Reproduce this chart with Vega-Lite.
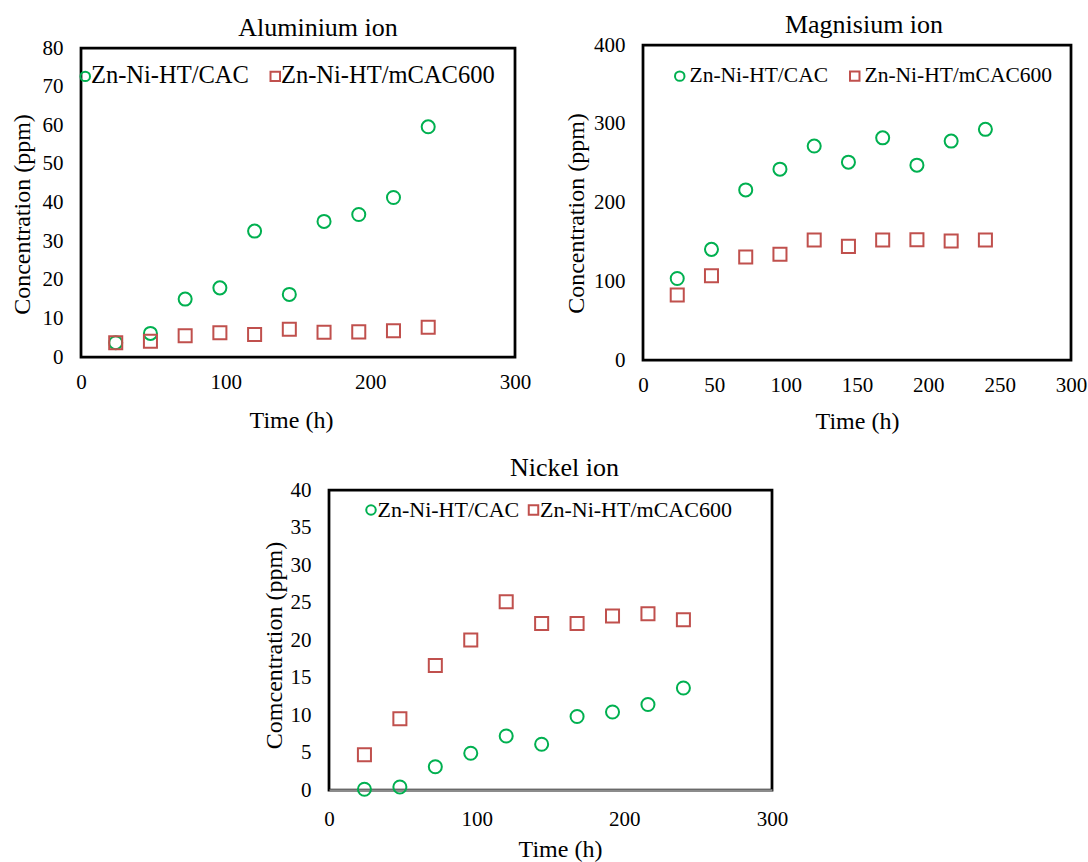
{
  "$schema": "https://vega.github.io/schema/vega-lite/v6.json",
  "background": "white",
  "padding": {"left": 8, "top": 10, "right": 5, "bottom": 5},
  "datasets": {
    "ions": [
      {"ion": "Aluminium", "material": "Zn-Ni-HT/CAC", "time": 24, "conc": 3.7},
      {"ion": "Aluminium", "material": "Zn-Ni-HT/CAC", "time": 48, "conc": 6.1},
      {"ion": "Aluminium", "material": "Zn-Ni-HT/CAC", "time": 72, "conc": 15.0},
      {"ion": "Aluminium", "material": "Zn-Ni-HT/CAC", "time": 96, "conc": 17.9},
      {"ion": "Aluminium", "material": "Zn-Ni-HT/CAC", "time": 120, "conc": 32.6},
      {"ion": "Aluminium", "material": "Zn-Ni-HT/CAC", "time": 144, "conc": 16.2},
      {"ion": "Aluminium", "material": "Zn-Ni-HT/CAC", "time": 168, "conc": 35.1},
      {"ion": "Aluminium", "material": "Zn-Ni-HT/CAC", "time": 192, "conc": 36.9},
      {"ion": "Aluminium", "material": "Zn-Ni-HT/CAC", "time": 216, "conc": 41.3},
      {"ion": "Aluminium", "material": "Zn-Ni-HT/CAC", "time": 240, "conc": 59.6},
      {"ion": "Aluminium", "material": "Zn-Ni-HT/mCAC600", "time": 24, "conc": 3.7},
      {"ion": "Aluminium", "material": "Zn-Ni-HT/mCAC600", "time": 48, "conc": 4.1},
      {"ion": "Aluminium", "material": "Zn-Ni-HT/mCAC600", "time": 72, "conc": 5.5},
      {"ion": "Aluminium", "material": "Zn-Ni-HT/mCAC600", "time": 96, "conc": 6.3},
      {"ion": "Aluminium", "material": "Zn-Ni-HT/mCAC600", "time": 120, "conc": 5.8},
      {"ion": "Aluminium", "material": "Zn-Ni-HT/mCAC600", "time": 144, "conc": 7.2},
      {"ion": "Aluminium", "material": "Zn-Ni-HT/mCAC600", "time": 168, "conc": 6.4},
      {"ion": "Aluminium", "material": "Zn-Ni-HT/mCAC600", "time": 192, "conc": 6.5},
      {"ion": "Aluminium", "material": "Zn-Ni-HT/mCAC600", "time": 216, "conc": 6.8},
      {"ion": "Aluminium", "material": "Zn-Ni-HT/mCAC600", "time": 240, "conc": 7.7},
      {"ion": "Magnesium", "material": "Zn-Ni-HT/CAC", "time": 24, "conc": 103.5},
      {"ion": "Magnesium", "material": "Zn-Ni-HT/CAC", "time": 48, "conc": 140.5},
      {"ion": "Magnesium", "material": "Zn-Ni-HT/CAC", "time": 72, "conc": 216},
      {"ion": "Magnesium", "material": "Zn-Ni-HT/CAC", "time": 96, "conc": 242.3},
      {"ion": "Magnesium", "material": "Zn-Ni-HT/CAC", "time": 120, "conc": 271.7},
      {"ion": "Magnesium", "material": "Zn-Ni-HT/CAC", "time": 144, "conc": 251.2},
      {"ion": "Magnesium", "material": "Zn-Ni-HT/CAC", "time": 168, "conc": 282.1},
      {"ion": "Magnesium", "material": "Zn-Ni-HT/CAC", "time": 192, "conc": 247.4},
      {"ion": "Magnesium", "material": "Zn-Ni-HT/CAC", "time": 216, "conc": 278},
      {"ion": "Magnesium", "material": "Zn-Ni-HT/CAC", "time": 240, "conc": 292.9},
      {"ion": "Magnesium", "material": "Zn-Ni-HT/mCAC600", "time": 24, "conc": 82.5},
      {"ion": "Magnesium", "material": "Zn-Ni-HT/mCAC600", "time": 48, "conc": 107.1},
      {"ion": "Magnesium", "material": "Zn-Ni-HT/mCAC600", "time": 72, "conc": 130.8},
      {"ion": "Magnesium", "material": "Zn-Ni-HT/mCAC600", "time": 96, "conc": 134.2},
      {"ion": "Magnesium", "material": "Zn-Ni-HT/mCAC600", "time": 120, "conc": 152.4},
      {"ion": "Magnesium", "material": "Zn-Ni-HT/mCAC600", "time": 144, "conc": 144.3},
      {"ion": "Magnesium", "material": "Zn-Ni-HT/mCAC600", "time": 168, "conc": 152.4},
      {"ion": "Magnesium", "material": "Zn-Ni-HT/mCAC600", "time": 192, "conc": 152.8},
      {"ion": "Magnesium", "material": "Zn-Ni-HT/mCAC600", "time": 216, "conc": 151.1},
      {"ion": "Magnesium", "material": "Zn-Ni-HT/mCAC600", "time": 240, "conc": 152.4},
      {"ion": "Nickel", "material": "Zn-Ni-HT/CAC", "time": 24, "conc": 0.1},
      {"ion": "Nickel", "material": "Zn-Ni-HT/CAC", "time": 48, "conc": 0.4},
      {"ion": "Nickel", "material": "Zn-Ni-HT/CAC", "time": 72, "conc": 3.1},
      {"ion": "Nickel", "material": "Zn-Ni-HT/CAC", "time": 96, "conc": 4.9},
      {"ion": "Nickel", "material": "Zn-Ni-HT/CAC", "time": 120, "conc": 7.2},
      {"ion": "Nickel", "material": "Zn-Ni-HT/CAC", "time": 144, "conc": 6.1},
      {"ion": "Nickel", "material": "Zn-Ni-HT/CAC", "time": 168, "conc": 9.8},
      {"ion": "Nickel", "material": "Zn-Ni-HT/CAC", "time": 192, "conc": 10.4},
      {"ion": "Nickel", "material": "Zn-Ni-HT/CAC", "time": 216, "conc": 11.4},
      {"ion": "Nickel", "material": "Zn-Ni-HT/CAC", "time": 240, "conc": 13.6},
      {"ion": "Nickel", "material": "Zn-Ni-HT/mCAC600", "time": 24, "conc": 4.7},
      {"ion": "Nickel", "material": "Zn-Ni-HT/mCAC600", "time": 48, "conc": 9.5},
      {"ion": "Nickel", "material": "Zn-Ni-HT/mCAC600", "time": 72, "conc": 16.6},
      {"ion": "Nickel", "material": "Zn-Ni-HT/mCAC600", "time": 96, "conc": 20.0},
      {"ion": "Nickel", "material": "Zn-Ni-HT/mCAC600", "time": 120, "conc": 25.1},
      {"ion": "Nickel", "material": "Zn-Ni-HT/mCAC600", "time": 144, "conc": 22.2},
      {"ion": "Nickel", "material": "Zn-Ni-HT/mCAC600", "time": 168, "conc": 22.2},
      {"ion": "Nickel", "material": "Zn-Ni-HT/mCAC600", "time": 192, "conc": 23.2},
      {"ion": "Nickel", "material": "Zn-Ni-HT/mCAC600", "time": 216, "conc": 23.5},
      {"ion": "Nickel", "material": "Zn-Ni-HT/mCAC600", "time": 240, "conc": 22.7}
    ]
  },
  "config": {
    "font": "Liberation Serif",
    "view": {"stroke": "black", "strokeWidth": 2.75},
    "style": {
      "guide-title": {"font": "Liberation Serif", "fontWeight": "normal"},
      "guide-label": {"font": "Liberation Serif", "fontWeight": "normal"},
      "group-title": {"font": "Liberation Serif", "fontWeight": "normal"}
    },
    "title": {"font": "Liberation Serif", "fontSize": 26, "fontWeight": "normal", "color": "black", "baseline": "alphabetic", "anchor": "middle", "frame": "group"},
    "axis": {
      "grid": false, "ticks": false, "tickSize": 0, "domain": false, "labelFlush": false, "labelOverlap": false,
      "labelFont": "Liberation Serif", "labelFontSize": 21, "labelColor": "black",
      "titleFont": "Liberation Serif", "titleFontSize": 24, "titleFontWeight": "normal", "titleColor": "black"
    },
    "axisX": {"labelPadding": 14, "titleBaseline": "alphabetic", "titleFontWeight": "normal"},
    "axisY": {"labelPadding": 18, "titleBaseline": "alphabetic", "titleAngle": 270, "titleFontWeight": "normal"},
    "legend": {
      "orient": "none", "direction": "horizontal", "padding": 0, "labelLimit": 0,
      "labelFont": "Liberation Serif", "labelColor": "black",
      "symbolSize": 90, "symbolStrokeWidth": 2
    },
    "point": {"filled": false, "strokeWidth": 2, "opacity": 1}
  },
  "resolve": {"scale": {"color": "independent", "shape": "independent"}, "legend": {"color": "independent", "shape": "independent"}},
  "bounds": "full",
  "spacing": 18,
  "vconcat": [
    {
      "bounds": "flush",
      "center": true,
      "spacing": 128,
      "resolve": {"scale": {"color": "independent", "shape": "independent"}, "legend": {"color": "independent", "shape": "independent"}},
      "hconcat": [
        {
          "width": 434,
          "height": 309,
          "title": {"text": "Aluminium ion", "dx": 20, "offset": -4},
          "data": {"name": "ions"},
          "transform": [{"filter": "datum.ion === 'Aluminium'"}],
          "mark": {"type": "point", "size": 170},
          "encoding": {
            "x": {"field": "time", "type": "quantitative", "scale": {"domain": [0, 300], "nice": false},
                  "axis": {"values": [0, 100, 200, 300], "title": "Time (h)", "titleY": 70, "titleX": 210}},
            "y": {"field": "conc", "type": "quantitative", "scale": {"domain": [0, 80], "nice": false},
                  "axis": {"values": [0, 10, 20, 30, 40, 50, 60, 70, 80], "title": "Concentration (ppm)", "titleX": -52, "titleY": 166}},
            "color": {"field": "material", "type": "nominal",
                      "scale": {"domain": ["Zn-Ni-HT/CAC", "Zn-Ni-HT/mCAC600"], "range": ["#00B050", "#C0504D"]},
                      "legend": {"title": null, "legendX": -8, "legendY": 16, "labelFontSize": 24.5, "labelOffset": -6.5, "columnPadding": 14}},
            "shape": {"field": "material", "type": "nominal",
                      "scale": {"domain": ["Zn-Ni-HT/CAC", "Zn-Ni-HT/mCAC600"], "range": ["circle", "square"]},
                      "legend": {"title": null, "legendX": -8, "legendY": 16, "labelFontSize": 24.5, "labelOffset": -6.5, "columnPadding": 14}}
          }
        },
        {
          "width": 428,
          "height": 315,
          "title": {"text": "Magnisium ion", "dx": 7, "offset": -4},
          "data": {"name": "ions"},
          "transform": [{"filter": "datum.ion === 'Magnesium'"}],
          "mark": {"type": "point", "size": 170},
          "encoding": {
            "x": {"field": "time", "type": "quantitative", "scale": {"domain": [0, 300], "nice": false},
                  "axis": {"values": [0, 50, 100, 150, 200, 250, 300], "title": "Time (h)", "titleY": 68}},
            "y": {"field": "conc", "type": "quantitative", "scale": {"domain": [0, 400], "nice": false},
                  "axis": {"values": [0, 100, 200, 300, 400], "title": "Concentration (ppm)", "titleX": -60, "titleY": 168}},
            "color": {"field": "material", "type": "nominal",
                      "scale": {"domain": ["Zn-Ni-HT/CAC", "Zn-Ni-HT/mCAC600"], "range": ["#00B050", "#C0504D"]},
                      "legend": {"title": null, "legendX": 26, "legendY": 20, "labelFontSize": 21.5, "labelOffset": -1, "columnPadding": 15}},
            "shape": {"field": "material", "type": "nominal",
                      "scale": {"domain": ["Zn-Ni-HT/CAC", "Zn-Ni-HT/mCAC600"], "range": ["circle", "square"]},
                      "legend": {"title": null, "legendX": 26, "legendY": 20, "labelFontSize": 21.5, "labelOffset": -1, "columnPadding": 15}}
          }
        }
      ]
    },
    {
      "bounds": "flush",
      "spacing": 20,
      "resolve": {"scale": {"color": "independent", "shape": "independent"}, "legend": {"color": "independent", "shape": "independent"}},
      "hconcat": [
        {
          "width": 228,
          "height": 300,
          "view": {"stroke": null},
          "data": {"values": []},
          "mark": "point",
          "encoding": {}
        },
        {
          "width": 443,
          "height": 300,
          "title": {"text": "Nickel ion", "dx": 14, "offset": -1.5},
          "data": {"name": "ions"},
          "transform": [{"filter": "datum.ion === 'Nickel'"}],
          "mark": {"type": "point", "size": 170},
          "encoding": {
            "x": {"field": "time", "type": "quantitative", "scale": {"domain": [0, 300], "nice": false},
                  "axis": {"values": [0, 100, 200, 300], "title": "Time (h)", "titleY": 66, "titleX": 231, "labelPadding": 18,
                           "domain": true, "domainColor": "#8c8c8c", "domainWidth": 2.75}},
            "y": {"field": "conc", "type": "quantitative", "scale": {"domain": [0, 40], "nice": false},
                  "axis": {"values": [0, 5, 10, 15, 20, 25, 30, 35, 40], "title": "Comcentration (ppm)", "titleX": -48, "titleY": 155}},
            "color": {"field": "material", "type": "nominal",
                      "scale": {"domain": ["Zn-Ni-HT/CAC", "Zn-Ni-HT/mCAC600"], "range": ["#00B050", "#C0504D"]},
                      "legend": {"title": null, "legendX": 31, "legendY": 9, "labelFontSize": 22, "labelOffset": -4.5, "columnPadding": 2.5}},
            "shape": {"field": "material", "type": "nominal",
                      "scale": {"domain": ["Zn-Ni-HT/CAC", "Zn-Ni-HT/mCAC600"], "range": ["circle", "square"]},
                      "legend": {"title": null, "legendX": 31, "legendY": 9, "labelFontSize": 22, "labelOffset": -4.5, "columnPadding": 2.5}}
          }
        }
      ]
    }
  ]
}
